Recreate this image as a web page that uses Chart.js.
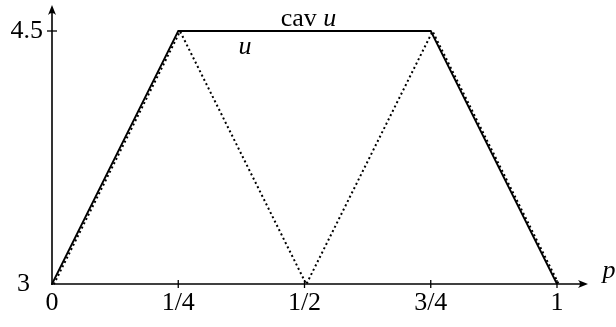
<!DOCTYPE html>
<html>
<head>
<meta charset="utf-8">
<script src="https://cdn.jsdelivr.net/npm/chart.js@4"></script>
<style>
  html, body { margin: 0; padding: 0; background: #ffffff; }
  #wrap { width: 616px; height: 327px; }
</style>
</head>
<body>
<div id="wrap"><canvas id="c" width="616" height="327"></canvas></div>
<script>
// ---- data ----
const uX = [0, 0.25, 0.5, 0.75, 1];
const uValues = [3, 4.5, 3, 4.5, 3];
const cavX = [0, 0.25, 0.75, 1];
const cavValues = [3, 4.5, 4.5, 3];
const xTickValues = [0, 0.25, 0.5, 0.75, 1];
const xTickLabels = ['0', '1/4', '1/2', '3/4', '1'];
const yTickValues = [3, 4.5];
const yTickLabels = ['3\u2002', '4.5'];
const seriesNames = ['cav ', 'u'];
const xAxisName = 'p';

const SERIF = '"Liberation Serif", "DejaVu Serif", serif';

const shiftPlugin = {
  id: 'shiftPlugin',
  beforeDatasetDraw(chart, args) {
    if (args.index === 0) { chart.ctx.save(); chart.ctx.translate(1.8, 0.3); }
  },
  afterDatasetDraw(chart, args) {
    if (args.index === 0) { chart.ctx.restore(); }
  }
};

const axesPlugin = {
  id: 'axesPlugin',
  afterDraw(chart) {
    const ctx = chart.ctx;
    const xs = chart.scales.x, ys = chart.scales.y;
    const x0 = xs.getPixelForValue(0);
    const y0 = ys.getPixelForValue(3);
    ctx.save();
    ctx.strokeStyle = '#000';
    ctx.fillStyle = '#000';
    ctx.lineWidth = 1.6;
    const xEnd = 588, yEnd = 5;
    ctx.beginPath();
    ctx.moveTo(x0 - 1, y0);
    ctx.lineTo(xEnd - 4, y0);
    ctx.stroke();
    ctx.beginPath();
    ctx.moveTo(x0, y0 + 1);
    ctx.lineTo(x0, yEnd + 4);
    ctx.stroke();
    ctx.beginPath();
    ctx.moveTo(xEnd, y0);
    ctx.lineTo(xEnd - 10, y0 - 4);
    ctx.quadraticCurveTo(xEnd - 6, y0, xEnd - 10, y0 + 4);
    ctx.closePath();
    ctx.fill();
    ctx.beginPath();
    ctx.moveTo(x0, yEnd);
    ctx.lineTo(x0 - 4, yEnd + 10);
    ctx.quadraticCurveTo(x0, yEnd + 6, x0 + 4, yEnd + 10);
    ctx.closePath();
    ctx.fill();
    ctx.lineWidth = 1.3;
    xTickValues.forEach(v => {
      if (v === 0) return;
      const px = xs.getPixelForValue(v);
      ctx.beginPath();
      ctx.moveTo(px, y0 - 4);
      ctx.lineTo(px, y0 + 4);
      ctx.stroke();
    });
    yTickValues.forEach(v => {
      if (v === 3) return;
      const py = ys.getPixelForValue(v);
      ctx.beginPath();
      ctx.moveTo(x0 - 5, py);
      ctx.lineTo(x0 + 5, py);
      ctx.stroke();
    });
    ctx.textBaseline = 'middle';
    ctx.textAlign = 'left';
    const cx = xs.getPixelForValue(0.5), cy = ys.getPixelForValue(4.5) - 12;
    ctx.font = '26px ' + SERIF;
    const w1 = ctx.measureText(seriesNames[0]).width;
    ctx.font = 'italic 26px ' + SERIF;
    const w2 = ctx.measureText(seriesNames[1]).width;
    let sx = cx + 4 - (w1 + w2) / 2;
    ctx.font = '26px ' + SERIF;
    ctx.fillText(seriesNames[0], sx, cy);
    ctx.font = 'italic 26px ' + SERIF;
    ctx.fillText(seriesNames[1], sx + w1, cy);
    ctx.textAlign = 'center';
    ctx.fillText(seriesNames[1], xs.getPixelForValue(0.382), ys.getPixelForValue(4.5) + 16);
    ctx.fillText(xAxisName, 609, y0 - 13);
    ctx.restore();
  }
};

new Chart(document.getElementById('c'), {
  type: 'line',
  data: {
    datasets: [
      {
        label: 'u',
        data: uX.map((x, i) => ({ x: x, y: uValues[i] })),
        borderColor: '#000',
        borderWidth: 2,
        borderDash: [2, 2.8],
        pointRadius: 0,
        fill: false,
        tension: 0,
        clip: false
      },
      {
        label: 'cav u',
        data: cavX.map((x, i) => ({ x: x, y: cavValues[i] })),
        borderColor: '#000',
        borderWidth: 1.8,
        pointRadius: 0,
        fill: false,
        tension: 0,
        clip: false
      }
    ]
  },
  options: {
    responsive: false,
    animation: false,
    devicePixelRatio: 1,
    layout: { padding: { left: 0, right: 59, top: 31, bottom: 0 } },
    plugins: { legend: { display: false }, tooltip: { enabled: false } },
    scales: {
      x: {
        type: 'linear',
        min: 0, max: 1,
        grid: { display: false, drawTicks: false },
        border: { display: false },
        afterBuildTicks: s => { s.ticks = xTickValues.map(v => ({ value: v })); },
        afterFit: s => { s.height = 43; },
        ticks: {
          autoSkip: false,
          maxRotation: 0,
          padding: 4,
          color: '#000',
          font: { family: SERIF, size: 26 },
          callback: (v, i) => xTickLabels[i]
        }
      },
      y: {
        type: 'linear',
        min: 3, max: 4.5,
        grid: { display: false, drawTicks: false },
        border: { display: false },
        afterBuildTicks: s => { s.ticks = yTickValues.map(v => ({ value: v })); },
        afterFit: s => { s.width = 52; },
        ticks: {
          autoSkip: false,
          padding: 9,
          color: '#000',
          font: { family: SERIF, size: 26 },
          callback: (v, i) => yTickLabels[i]
        }
      }
    }
  },
  plugins: [shiftPlugin, axesPlugin]
});
</script>
</body>
</html>
